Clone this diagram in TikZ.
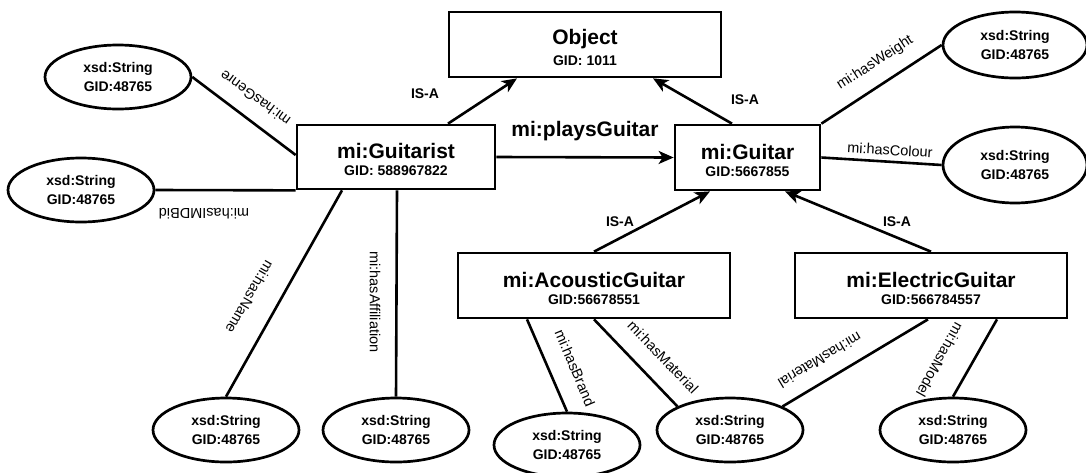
\documentclass[tikz,border=0pt]{standalone}
\usepackage{fontspec}
\setmainfont{Liberation Sans}
\usetikzlibrary{arrows.meta,shapes.geometric}
\tikzset{
  cls/.style={draw,line width=2.7pt,rectangle,inner sep=0pt,align=center,font=\bfseries},
  lit/.style={draw,line width=2.7pt,ellipse,inner sep=0pt,minimum width=146pt,minimum height=64pt,align=center,font=\bfseries\fontsize{14}{19}\selectfont},
  conn/.style={line width=2.6pt},
  isa/.style={conn,-{Stealth[length=15pt,width=13pt,inset=4pt]}},
  elab/.style={inner sep=0pt,font=\fontsize{14.5}{17}\selectfont},
  isalab/.style={inner sep=0pt,font=\bfseries\fontsize{14}{17}\selectfont},
}
\newcommand{\clstext}[2]{\fontsize{21}{25}\selectfont\rule{0pt}{21pt}#1\\[5pt]\fontsize{14}{17}\selectfont #2}
\begin{document}
\begin{tikzpicture}[x=1pt,y=-1pt]
\useasboundingbox[fill=white] (0,0) rectangle (1086,472);
% classes
\node[cls,minimum width=272pt,minimum height=65pt] (object) at (585,44.5) {\clstext{Object}{GID: 1011}};
\node[cls,minimum width=198pt,minimum height=64pt] (guitarist) at (396,157) {\clstext{mi:Guitarist}{GID: 588967822}};
\node[cls,minimum width=145pt,minimum height=65pt] (guitar) at (747.5,157.5) {\clstext{mi:Guitar}{GID:5667855}};
\node[cls,minimum width=272pt,minimum height=65pt] (acoustic) at (594,285.5) {\clstext{mi:AcousticGuitar}{GID:56678551}};
\node[cls,minimum width=272pt,minimum height=65pt] (electric) at (931,285.5) {\clstext{mi:ElectricGuitar}{GID:566784557}};
% literals
\node[lit] (genre) at (118,77) {xsd:String\\GID:48765};
\node[lit] (imdb) at (81,190) {xsd:String\\GID:48765};
\node[lit] (name) at (226,430) {xsd:String\\GID:48765};
\node[lit] (affil) at (396,430) {xsd:String\\GID:48765};
\node[lit] (brand) at (567,445) {xsd:String\\GID:48765};
\node[lit] (material) at (730,430) {xsd:String\\GID:48765};
\node[lit] (model) at (953,430) {xsd:String\\GID:48765};
\node[lit,minimum width=144pt,minimum height=66pt] (weight) at (1015,45) {xsd:String\\GID:48765};
\node[lit,minimum width=144pt,minimum height=76pt] (colour) at (1015,165) {xsd:String\\GID:48765};
% IS-A
\draw[isa] ([xshift=52pt]guitarist.north) -- ([xshift=-68pt]object.south);
\draw[isa] ([xshift=-15.5pt]guitar.north) -- ([xshift=68pt]object.south);
\draw[isa] (acoustic.north) -- ([xshift=-37.5pt]guitar.south);
\draw[isa] (electric.north) -- ([xshift=37.5pt]guitar.south);
\draw[isa] (guitarist.east) -- (guitar.west);
% properties
\draw[conn] (genre.east) -- ([yshift=2pt]guitarist.west);
\draw[conn] (imdb.east) -- (guitarist.south west);
\draw[conn] ([xshift=-54pt]guitarist.south) -- (name.north);
\draw[conn] ([xshift=1pt]guitarist.south) -- (affil.north);
\draw[conn] (guitar.north east) -- (weight.west);
\draw[conn] (guitar.east) -- (colour.west);
\draw[conn] ([xshift=-67pt]acoustic.south) -- (brand.north);
\draw[conn] (acoustic.south) -- (material.north west);
\draw[conn] ([xshift=-3pt]electric.south) -- (material.north east);
\draw[conn] ([xshift=66pt]electric.south) -- (model.north);
% labels
\node[isalab] (l1) at (425,94) {IS-A};
\node[isalab] (l2) at (745,100) {IS-A};
\node[isalab] (l3) at (620,222) {IS-A};
\node[isalab] (l4) at (897,222) {IS-A};
\node[inner sep=0pt,font=\bfseries\fontsize{21}{25}\selectfont] (l5) at (585,131) {mi:playsGuitar};
\node[elab,rotate=144] (l6) at (255,98) {mi:hasGenre};
\node[elab,rotate=180] (l7) at (204,214) {mi:hasIMDBid};
\node[elab,rotate=-120] (l8) at (250,297) {mi:hasName};
\node[elab,rotate=-90] (l9) at (375,302) {mi:hasAffiliation};
\node[elab,rotate=33] (l10) at (875,63) {mi:hasWeight};
\node[elab,rotate=-3.5] (l11) at (890,150) {mi:hasColour};
\node[elab,rotate=-67] (l12) at (575,368) {mi:hasBrand};
\node[elab,rotate=-46] (l13) at (663,357) {mi:hasMaterial};
\node[elab,rotate=-149] (l14) at (820,360) {mi:hasMaterial};
\node[elab,rotate=-119] (l15) at (940,360) {mi:hasModel};
\end{tikzpicture}
\end{document}
